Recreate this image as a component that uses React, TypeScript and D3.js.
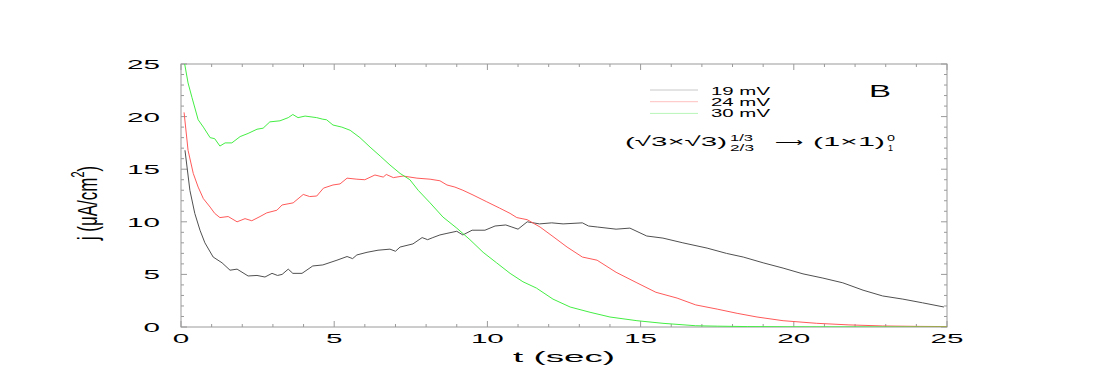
import * as d3 from "d3";

// t (sec), j (uA/cm^2)
const curve19: [number, number][] = [
  [0.13, 16.8], [0.29, 13.0], [0.45, 10.8], [0.62, 9.2], [0.78, 8.0], [1.05, 6.65], [1.34, 6.1],
  [1.6, 5.4], [1.83, 5.5], [2.19, 4.85], [2.48, 4.9], [2.74, 4.75], [2.97, 5.1], [3.15, 4.9],
  [3.3, 5.0], [3.5, 5.5], [3.65, 5.1], [3.95, 5.1], [4.3, 5.8], [4.63, 5.9], [5.09, 6.35],
  [5.42, 6.7], [5.6, 6.5], [5.74, 6.85], [6.07, 7.1], [6.43, 7.3], [6.82, 7.4], [7.0, 7.2],
  [7.15, 7.6], [7.57, 7.9], [7.87, 8.5], [8.05, 8.3], [8.22, 8.5], [8.45, 8.75], [8.68, 8.9],
  [9.0, 9.1], [9.2, 8.75], [9.5, 9.2], [9.92, 9.2], [10.25, 9.6], [10.6, 9.7], [10.8, 9.5],
  [11.0, 9.3], [11.3, 10.0], [11.7, 9.8], [12.1, 9.9], [12.47, 9.8], [13.1, 9.9], [13.3, 9.6],
  [13.6, 9.5], [14.2, 9.3], [14.65, 9.4], [15.2, 8.65], [15.73, 8.45], [16.38, 8.0],
  [17.17, 7.5], [17.8, 7.0], [18.35, 6.65], [19.0, 6.1], [19.65, 5.6], [20.3, 5.05],
  [20.95, 4.65], [21.6, 4.2], [22.26, 3.5], [22.9, 2.95], [23.56, 2.65], [24.2, 2.3], [24.9, 1.9],
];

const curve24: [number, number][] = [
  [0.1, 20.4], [0.23, 16.8], [0.4, 14.6], [0.56, 13.3], [0.73, 12.2], [0.95, 11.4], [1.1, 10.8],
  [1.27, 10.4], [1.54, 10.5], [1.83, 10.0], [2.09, 10.3], [2.31, 10.1], [2.58, 10.5],
  [2.8, 10.85], [3.13, 11.1], [3.3, 11.6], [3.66, 11.8], [3.99, 12.6], [4.2, 12.4],
  [4.43, 12.45], [4.65, 13.2], [4.96, 13.5], [5.19, 13.6], [5.42, 14.15], [5.74, 14.05],
  [6.0, 14.0], [6.33, 14.45], [6.6, 14.25], [6.7, 14.5], [6.93, 14.2], [7.25, 14.35],
  [7.7, 14.15], [8.13, 14.05], [8.45, 13.9], [8.68, 13.5], [8.94, 13.3], [9.2, 13.0],
  [9.53, 12.55], [9.98, 11.9], [10.4, 11.3], [10.74, 10.8], [10.96, 10.4], [11.3, 10.2],
  [11.72, 9.5], [12.14, 8.6], [12.6, 7.6], [13.1, 6.65], [13.58, 6.35], [14.2, 5.2],
  [14.88, 4.2], [15.5, 3.3], [16.19, 2.75], [16.8, 2.1], [17.5, 1.7], [18.15, 1.3],
  [18.8, 0.95], [19.65, 0.6], [20.75, 0.35], [21.8, 0.2], [22.9, 0.1], [24.0, 0.06], [25.0, 0.04],
];

const curve30: [number, number][] = [
  [0.12, 25.0], [0.23, 23.2], [0.36, 21.8], [0.56, 19.7], [0.73, 19.0], [0.95, 18.0],
  [1.1, 17.9], [1.27, 17.2], [1.44, 17.5], [1.66, 17.5], [1.93, 18.1], [2.19, 18.4],
  [2.48, 18.8], [2.68, 18.9], [2.9, 19.5], [3.23, 19.6], [3.5, 19.9], [3.65, 20.2],
  [3.82, 19.9], [4.05, 20.05], [4.43, 19.9], [4.63, 19.75], [4.75, 19.7], [4.96, 19.2],
  [5.25, 19.0], [5.52, 18.7], [5.84, 18.0], [6.17, 17.1], [6.5, 16.25], [6.82, 15.4],
  [7.15, 14.6], [7.47, 14.0], [7.74, 13.0], [8.13, 11.8], [8.55, 10.45], [9.0, 9.4],
  [9.43, 8.3], [9.86, 7.1], [10.3, 6.1], [10.74, 5.1], [11.16, 4.3], [11.6, 3.7],
  [12.14, 2.65], [12.7, 1.9], [13.35, 1.4], [14.0, 0.95], [14.88, 0.6], [15.73, 0.35],
  [16.8, 0.12], [17.5, 0.08], [18.5, 0.04], [20.0, 0.02], [22.0, 0.01], [25.0, 0.0],
];

const seriesNames = ["19 mV", "24 mV", "30 mV"];
const seriesColors = ["#505050", "#ff5a5a", "#44ee44"];
const legendColors = ["#c8c8c8", "#ffc0c0", "#b8f5b8"];
const tickLabels = [0, 5, 10, 15, 20, 25];

const W = 1100;
const H = 383;
const left = 181, right = 947, top = 64, bottom = 327;

export default function App() {
  const x = d3.scaleLinear().domain([0, 25]).range([left, right]);
  const y = d3.scaleLinear().domain([0, 25]).range([bottom, top]);
  const line = d3
    .line<[number, number]>()
    .x((d) => x(d[0]))
    .y((d) => y(d[1]));
  const curves = [curve19, curve24, curve30];
  const minor = d3.range(0, 26);
  const axisColor = "#9a9a9a";
  const font = "'Liberation Sans', Arial, sans-serif";

  return (
    <svg
      width={W}
      height={H}
      style={{ position: "absolute", left: 0, top: 0, background: "#fff" }}
      fontFamily={font}
    >
      <defs>
        <clipPath id="plot">
          <rect x={left} y={top} width={right - left} height={bottom - top} />
        </clipPath>
      </defs>

      {/* frame */}
      <rect x={left} y={top} width={right - left} height={bottom - top} fill="none" stroke={axisColor} strokeWidth={1} />

      {/* ticks, all pointing inward */}
      {minor.map((v) => {
        const len = v % 5 === 0 ? 6 : 3;
        return (
          <g key={v} stroke={axisColor} strokeWidth={1}>
            <line x1={x(v)} x2={x(v)} y1={bottom} y2={bottom - len} />
            <line x1={x(v)} x2={x(v)} y1={top} y2={top + len} />
            <line x1={left} x2={left + len} y1={y(v)} y2={y(v)} />
            <line x1={right} x2={right - len} y1={y(v)} y2={y(v)} />
          </g>
        );
      })}

      {/* tick labels */}
      {tickLabels.map((v) => (
        <text
          key={"x" + v}
          x={x(v)}
          y={343}
          textAnchor="middle"
          fontSize={13.5}
          textLength={String(v).length * 16.5}
          lengthAdjust="spacingAndGlyphs"
        >
          {v}
        </text>
      ))}
      {tickLabels.map((v) => (
        <text
          key={"y" + v}
          x={160}
          y={y(v) + 5}
          textAnchor="end"
          fontSize={13.5}
          textLength={String(v).length * 16.5}
          lengthAdjust="spacingAndGlyphs"
        >
          {v}
        </text>
      ))}

      {/* axis titles */}
      <text x={564} y={362} textAnchor="middle" fontSize={14.5} textLength={102} lengthAdjust="spacingAndGlyphs">
        t (sec)
      </text>
      <text transform="translate(97,203) scale(1.6,1) rotate(-90)" textAnchor="middle" fontSize={17}>
        j (μA/cm<tspan dy={-8} fontSize={11}>2</tspan>
        <tspan dy={8}>)</tspan>
      </text>

      {/* curves */}
      <g clipPath="url(#plot)">
        {curves.map((c, i) => (
          <path key={i} d={line(c) ?? ""} fill="none" stroke={seriesColors[i]} strokeWidth={1} />
        ))}
      </g>

      {/* legend */}
      {seriesNames.map((name, i) => (
        <g key={name}>
          <line x1={650} x2={698} y1={90 + i * 11.7} y2={90 + i * 11.7} stroke={legendColors[i]} strokeWidth={1} />
          <text
            x={711}
            y={94.5 + i * 11.3}
            fontSize={11}
            textLength={59}
            lengthAdjust="spacingAndGlyphs"
          >
            {name}
          </text>
        </g>
      ))}
      <text x={869} y={97} fontSize={17} textLength={22} lengthAdjust="spacingAndGlyphs">
        B
      </text>

      {/* transition annotation */}
      <text x={625} y={146} fontSize={13.5} textLength={102} lengthAdjust="spacingAndGlyphs">
        (√3×√3)
      </text>
      <text x={730} y={141} fontSize={8.5} textLength={23} lengthAdjust="spacingAndGlyphs">
        1/3
      </text>
      <text x={730} y={151} fontSize={8.5} textLength={24} lengthAdjust="spacingAndGlyphs">
        2/3
      </text>
      <text x={775} y={147} fontSize={13.5} textLength={28} lengthAdjust="spacingAndGlyphs">
        ⟶
      </text>
      <text x={813} y={146} fontSize={13.5} textLength={72} lengthAdjust="spacingAndGlyphs">
        (1×1)
      </text>
      <text x={887} y={141} fontSize={8.5} textLength={8} lengthAdjust="spacingAndGlyphs">
        0
      </text>
      <text x={888} y={151} fontSize={8.5} textLength={5} lengthAdjust="spacingAndGlyphs">
        1
      </text>
    </svg>
  );
}
